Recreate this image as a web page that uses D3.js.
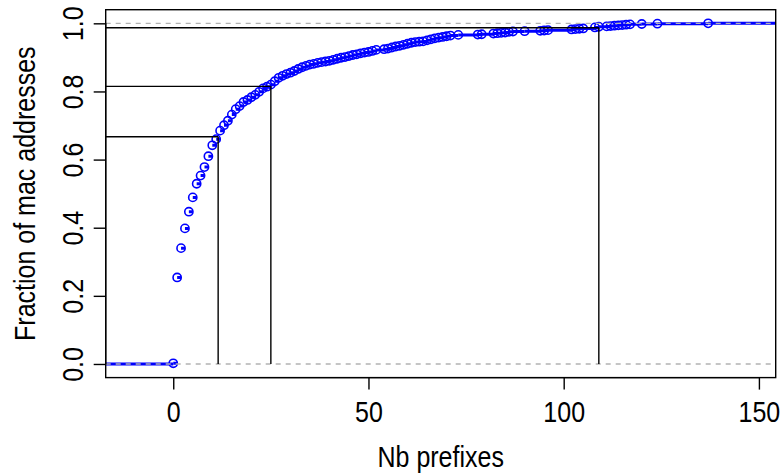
<!DOCTYPE html>
<html>
<head>
<meta charset="utf-8">
<script src="https://cdn.jsdelivr.net/npm/d3@7"></script>
<style>
  html, body { margin: 0; padding: 0; background: #fff; }
  svg { display: block; }
  text { font-family: "Liberation Sans", Arial, Helvetica, sans-serif; }
</style>
</head>
<body>
<svg id="chart" width="783" height="474"></svg>
<script>
// ---- Data ----
const prefixes = [0,1,2,3,4,5,6,7,8,9,10,11,12,13,14,15,16,17,18,19,20,21,22,23,24,25,26,27,28,29,30,31,32,33,34,35,36,37,38,39,40,41,42,43,44,45,46,47,48,49,50,51,52,54,55,56,57,58,59,60,61,62,63,64,65,66,67,68,69,70,71,73,78,79,82,83,84,85,86,87,90,94,95,96,102,103,104,105,108,109,111,112,113,114,115,116,117,120,124,137];
const fraction = [0.002,0.254,0.340,0.398,0.447,0.489,0.529,0.553,0.578,0.610,0.642,0.660,0.685,0.701,0.714,0.732,0.748,0.757,0.769,0.775,0.783,0.790,0.799,0.809,0.814,0.820,0.830,0.840,0.846,0.851,0.855,0.860,0.866,0.871,0.875,0.879,0.881,0.884,0.886,0.888,0.890,0.893,0.896,0.899,0.901,0.904,0.907,0.909,0.912,0.914,0.916,0.919,0.922,0.924,0.926,0.929,0.932,0.934,0.937,0.940,0.943,0.945,0.946,0.947,0.950,0.953,0.956,0.958,0.960,0.962,0.964,0.966,0.967,0.968,0.970,0.971,0.972,0.973,0.975,0.976,0.977,0.978,0.979,0.980,0.982,0.983,0.984,0.985,0.988,0.990,0.991,0.992,0.993,0.994,0.995,0.996,0.997,0.998,0.999,1.000];
const refX = [11.5, 25, 109];
const refY = [0.667, 0.815, 0.987];
const xTicks = [0, 50, 100, 150];
const yTicks = [0, 0.2, 0.4, 0.6, 0.8, 1.0];
const xLabel = "Nb prefixes";
const yLabel = "Fraction of mac addresses";

// ---- Layout ----
const L = 105.7, R = 775.7, T = 9.7, B = 377.6;
const STRETCH = 1.2;
const svg = d3.select("#chart");
const x = d3.scaleLinear().domain([-17.3, 154.3]).range([L, R]);
const y = d3.scaleLinear().domain([-0.04, 1.04]).range([B, T]);

svg.append("clipPath").attr("id", "plotclip")
  .append("rect").attr("x", L).attr("y", T).attr("width", R - L).attr("height", B - T);

const plot = svg.append("g").attr("clip-path", "url(#plotclip)");

// step segments
const pts = prefixes.map((p, i) => ({ x: p, y: fraction[i] }));
const segs = [];
segs.push({ x1: x.domain()[0], x2: pts[0].x, y: 0 });
pts.forEach((p, i) => {
  const nx = i < pts.length - 1 ? pts[i + 1].x : x.domain()[1];
  segs.push({ x1: p.x, x2: nx, y: p.y });
});
plot.selectAll("line.seg").data(segs).enter().append("line")
  .attr("class", "seg")
  .attr("x1", d => x(d.x1)).attr("x2", d => x(d.x2))
  .attr("y1", d => y(d.y)).attr("y2", d => y(d.y))
  .attr("stroke", "#0000ff").attr("stroke-width", 3);

// points
plot.selectAll("circle.pt").data(pts).enter().append("circle")
  .attr("class", "pt")
  .attr("cx", d => x(d.x)).attr("cy", d => y(d.y)).attr("r", 4.1)
  .attr("fill", "none").attr("stroke", "#0000ff").attr("stroke-width", 1.6);

// dashed 0/1 lines
plot.selectAll("line.h01").data([0, 1]).enter().append("line")
  .attr("x1", L).attr("x2", R)
  .attr("y1", d => y(d)).attr("y2", d => y(d))
  .attr("stroke", "#b3b3b3").attr("stroke-width", 1.4).attr("stroke-dasharray", "5,5");

// reference lines
refX.forEach((rx, i) => {
  plot.append("line")
    .attr("x1", x(rx)).attr("x2", x(rx)).attr("y1", y(0)).attr("y2", y(refY[i]))
    .attr("stroke", "#000").attr("stroke-width", 1.4);
  plot.append("line")
    .attr("x1", L).attr("x2", x(rx)).attr("y1", y(refY[i])).attr("y2", y(refY[i]))
    .attr("stroke", "#000").attr("stroke-width", 1.4);
});

// box
svg.append("rect").attr("x", L).attr("y", T).attr("width", R - L).attr("height", B - T)
  .attr("fill", "none").attr("stroke", "#000").attr("stroke-width", 1.4);

// x axis
const xAxis = d3.axisBottom(x).tickValues(xTicks).tickSize(12).tickFormat(d3.format("d"));
const gx = svg.append("g").attr("transform", `translate(0,${B})`).call(xAxis);
gx.select(".domain").attr("d", `M${x(xTicks[0])},0H${x(xTicks[xTicks.length-1])}`).attr("stroke-width", 1.4);
gx.selectAll(".tick line").attr("stroke-width", 1.4);
gx.selectAll(".tick text").attr("font-size", 25).attr("fill", "#000")
  .attr("font-family", "Liberation Sans, Arial, sans-serif")
  .attr("y", 0).attr("dy", null)
  .attr("transform", `translate(0,44) scale(1,${STRETCH})`);

// y axis
const yAxis = d3.axisLeft(y).tickValues(yTicks).tickSize(12).tickFormat(d3.format(".1f"));
const gy = svg.append("g").attr("transform", `translate(${L},0)`).call(yAxis);
gy.select(".domain").attr("d", `M0,${y(0)}V${y(1)}`).attr("stroke-width", 1.4);
gy.selectAll(".tick line").attr("stroke-width", 1.4);
gy.selectAll(".tick text")
  .attr("font-size", 25).attr("fill", "#000")
  .attr("font-family", "Liberation Sans, Arial, sans-serif")
  .attr("x", null).attr("dy", null)
  .attr("text-anchor", "middle")
  .attr("transform", `translate(-23,0) rotate(-90) scale(1,${STRETCH})`);

// axis titles
svg.append("text").attr("transform", `translate(${(L + R) / 2},467) scale(1,${STRETCH})`)
  .attr("text-anchor", "middle").attr("font-size", 25).attr("fill", "#000").text(xLabel);
svg.append("text").attr("transform", `translate(35,${(T + B) / 2}) rotate(-90) scale(1,${STRETCH})`)
  .attr("text-anchor", "middle").attr("font-size", 25).attr("fill", "#000").text(yLabel);
</script>
</body>
</html>
